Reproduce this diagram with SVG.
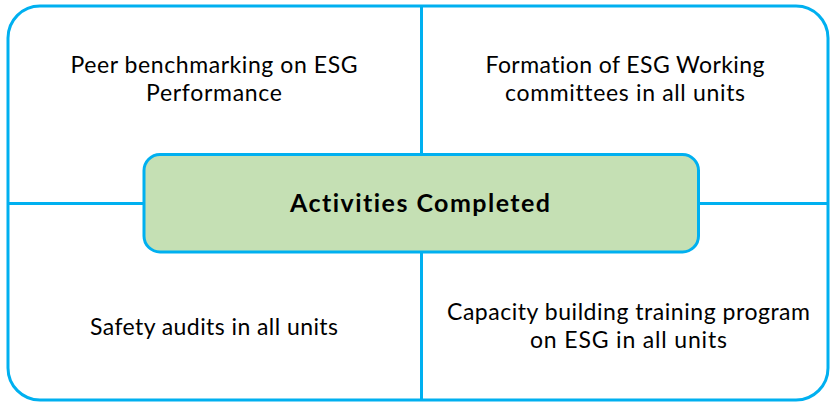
<svg xmlns="http://www.w3.org/2000/svg" width="831" height="402" viewBox="0 0 831 402">
<style>
.frame{fill:#ffffff;stroke:#00b0f0;stroke-width:3}
.line{stroke:#00b0f0;stroke-width:3;fill:none}
.center{fill:#c5e0b4;stroke:#00b0f0;stroke-width:3}
.t{font-family:Lato,"Open Sans","Liberation Sans",sans-serif;font-size:23px;fill:#000000;text-anchor:middle;font-variant-ligatures:none}
.b{font-weight:bold;font-size:25px}
</style>
<rect width="831" height="402" fill="#ffffff"/>
<g id="frame">
<rect class="frame" x="8" y="6" width="820" height="394" rx="32" ry="32"/>
</g>
<g id="connectors">
<line class="line" x1="421.5" y1="6" x2="421.5" y2="155"/>
<line class="line" x1="421.5" y1="252" x2="421.5" y2="400"/>
<line class="line" x1="8" y1="203.5" x2="144" y2="203.5"/>
<line class="line" x1="698.5" y1="203.5" x2="828" y2="203.5"/>
</g>
<g id="node-tl">
<text class="t" x="214" y="73" textLength="287" lengthAdjust="spacing">Peer benchmarking on ESG</text>
<text class="t" x="214" y="101" textLength="136" lengthAdjust="spacing">Performance</text>
</g>
<g id="node-tr">
<text class="t" x="625" y="73" textLength="279" lengthAdjust="spacing">Formation of ESG Working</text>
<text class="t" x="625" y="101" textLength="240" lengthAdjust="spacing">committees in all units</text>
</g>
<g id="node-bl">
<text class="t" x="214" y="335" textLength="248" lengthAdjust="spacing">Safety audits in all units</text>
</g>
<g id="node-br">
<text class="t" x="628.5" y="320" textLength="363" lengthAdjust="spacing">Capacity building training program</text>
<text class="t" x="628.5" y="348" textLength="197" lengthAdjust="spacing">on ESG in all units</text>
</g>
<g id="node-center">
<rect class="center" x="144" y="154.5" width="554.5" height="97.5" rx="16" ry="16"/>
<text class="t b" x="420" y="212" textLength="260" lengthAdjust="spacing">Activities Completed</text>
</g>
</svg>
